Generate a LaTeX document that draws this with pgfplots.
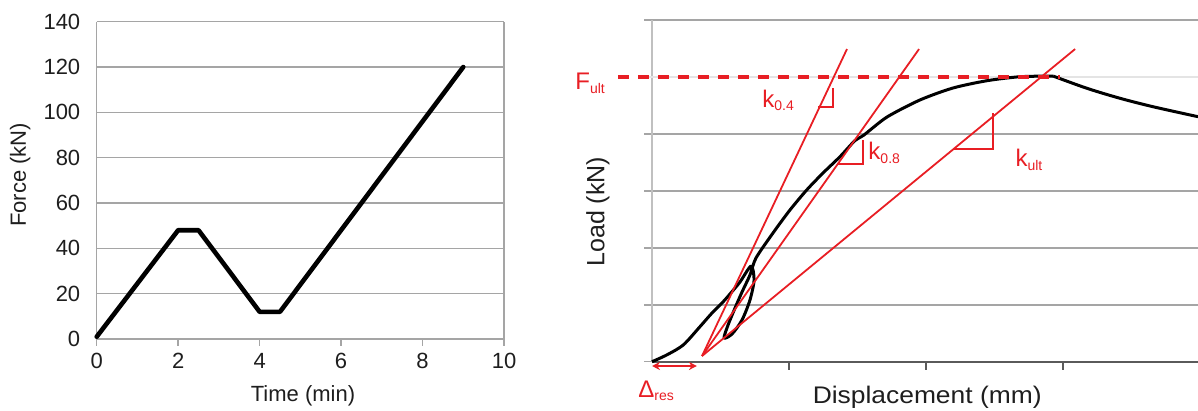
\documentclass[border=0pt]{standalone}
\usepackage{pgfplots}
\pgfplotsset{compat=1.18}
\usepackage{fontspec}
\setmainfont{Liberation Sans}
\usetikzlibrary{arrows.meta}
\definecolor{annred}{RGB}{232,30,36}
\definecolor{gridgray}{RGB}{165,165,165}
\definecolor{axdark}{RGB}{90,90,90}
\definecolor{txt}{RGB}{30,30,30}
\newcommand{\sub}[1]{\raisebox{-1.8pt}{\fontsize{7}{8}\selectfont #1}}

\begin{document}
\begin{tikzpicture}
\useasboundingbox (0,0) rectangle (599pt,205.5pt);
% ---------------- left chart ----------------
\begin{axis}[
  at={(48.35pt,36pt)}, anchor=south west, scale only axis,
  width=203.65pt, height=158.65pt,
  xmin=0, xmax=10, ymin=0, ymax=140,
  xtick={0,2,...,10}, ytick={0,20,...,140},
  axis line style={draw=none},
  ymajorgrids, grid style={gridgray, line width=0.7pt},
  tick align=outside, xtick pos=left,
  major tick length=3.5pt,
  xtick style={gridgray, line width=0.7pt},
  ytick style={draw=none},
  /pgf/number format/assume math mode=true,
  ticklabel style={font=\fontsize{11}{13}\selectfont, text=txt},
  yticklabel style={xshift=-1.2pt},
  xlabel={Time (min)}, ylabel={Force (kN)},
  label style={font=\fontsize{11}{13}\selectfont, text=txt},
  xlabel style={at={(axis description cs:0.5065,-0.18)}, anchor=center},
  ylabel style={at={(axis description cs:-0.188,0.517)}, anchor=center},
  clip=false,
]
\draw[gridgray, line width=0.7pt] (axis cs:0,0) -- (axis cs:0,140);
\draw[gridgray, line width=0.7pt] (axis cs:10,0) -- (axis cs:10,140);
\addplot[black, line width=2.3pt, line join=round, line cap=round]
  coordinates {(0,1) (2,48) (2.5,48) (4,12) (4.5,12) (9,120)};
\end{axis}
% ---------------- right chart ----------------
\begin{axis}[
  at={(326pt,24.65pt)}, anchor=south west, scale only axis,
  width=273pt, height=170.85pt,
  xmin=0, xmax=3.985, ymin=0, ymax=6,
  axis x line*=bottom, axis y line*=left,
  x axis line style={axdark, line width=0.9pt, -},
  y axis line style={gridgray!70, line width=0.7pt, -},
  xtick={1,2,3}, ytick={0,1,2,3,4,6},
  extra y ticks={5}, extra y tick labels={},
  extra y tick style={grid style={gridgray!30, line width=0.8pt}, ytick style={gridgray!30}},
  xticklabels={}, yticklabels={},
  ymajorgrids, grid style={gridgray, line width=0.8pt},
  tick align=outside, major tick length=4pt,
  xtick style={axdark, line width=0.9pt},
  ytick style={gridgray, line width=0.8pt},
  xlabel={\scalebox{1.1}[1]{Displacement (mm)}}, ylabel={Load (kN)},
  xlabel style={font=\fontsize{12}{14}\selectfont, text=txt, at={(axis description cs:0.504,-0.103)}, anchor=center},
  ylabel style={font=\fontsize{12.5}{14}\selectfont, text=txt, at={(axis description cs:-0.099,0.439)}, anchor=center},
  clip=false,
]
% load-displacement curve: loading, unload/reload loop, up to peak
\addplot[black, line width=1.5pt, line join=round, smooth, tension=0.45] coordinates {
 (0,0) (0.107,0.118) (0.228,0.293) (0.350,0.615) (0.436,0.850) (0.520,1.054)
 (0.569,1.189) (0.642,1.399) (0.723,1.680)
 (0.745,1.435) (0.715,1.083) (0.657,0.732) (0.584,0.486) (0.526,0.416)
 (0.555,0.644) (0.606,0.943) (0.657,1.224) (0.715,1.522) (0.759,1.821)
 (0.883,2.260) (1.007,2.664) (1.129,3.015) (1.248,3.313) (1.372,3.600)
 (1.480,3.880) (1.547,3.981) (1.715,4.296) (1.956,4.596) (2.197,4.806)
 (2.445,4.934) (2.686,5.004) (2.927,5.016)};
% post-peak branch
\addplot[black, line width=1.5pt, line join=round, smooth, tension=0.5] coordinates {
 (2.927,5.016) (3.175,4.800) (3.416,4.625) (3.657,4.477) (3.985,4.302)};
% stiffness lines
\addplot[annred, line width=0.9pt] coordinates {(0.365,0.1) (1.423,5.49)};
\addplot[annred, line width=0.9pt] coordinates {(0.365,0.1) (1.949,5.49)};
\addplot[annred, line width=0.9pt] coordinates {(0.365,0.1) (3.088,5.49)};
% F_ult dashed line
\addplot[annred, line width=2pt, dash pattern=on 5.5pt off 4.5pt] coordinates {(-0.248,5) (2.978,5)};
% slope triangles
\addplot[annred, line width=0.9pt] coordinates {(1.212,4.472) (1.321,4.472) (1.321,4.806)};
\addplot[annred, line width=0.9pt] coordinates {(1.358,3.471) (1.540,3.471) (1.540,3.893)};
\addplot[annred, line width=0.9pt] coordinates {(2.200,3.735) (2.489,3.735) (2.489,4.367)};
% residual displacement arrow
\addplot[annred, line width=1.2pt, {Stealth[length=4pt,width=4pt]}-{Stealth[length=4pt,width=4pt]}] coordinates {(0,-0.0755) (0.328,-0.0755)};
% labels
\node[anchor=base west, inner sep=0, text=annred, font=\fontsize{12}{14}\selectfont] at (axis cs:-0.562,4.771) {F\sub{ult}};
\node[anchor=base west, inner sep=0, text=annred, font=\fontsize{12}{14}\selectfont] at (axis cs:0.803,4.472) {k\sub{0.4}};
\node[anchor=base west, inner sep=0, text=annred, font=\fontsize{12}{14}\selectfont] at (axis cs:1.577,3.542) {k\sub{0.8}};
\node[anchor=base west, inner sep=0, text=annred, font=\fontsize{12}{14}\selectfont] at (axis cs:2.650,3.419) {k\sub{ult}};
\node[anchor=base west, inner sep=0, text=annred, font=\fontsize{12}{14}\selectfont] at (axis cs:-0.102,-0.62) {Δ\sub{res}};
\end{axis}
\end{tikzpicture}
\end{document}
